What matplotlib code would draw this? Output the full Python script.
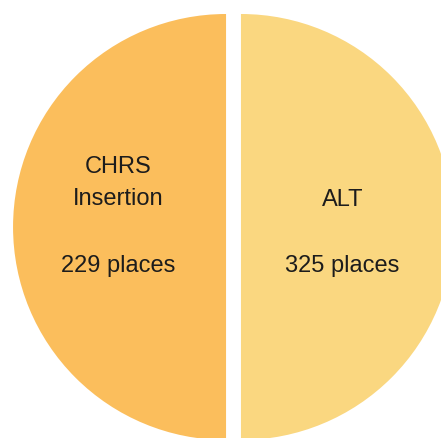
import matplotlib.pyplot as plt

# donnees
noms = ["CHRS\nInsertion", "ALT"]
places = [229, 325]
parts = [50, 50]  # les deux moities sont egales sur le dessin
couleurs = ["#FBBE5C", "#FAD780"]

plt.rcParams['font.family'] = ['Liberation Sans', 'DejaVu Sans']

fig = plt.figure(figsize=(4.41, 4.39), dpi=100)
ax = fig.add_axes([0, 0, 1, 1])

ax.pie(parts, colors=couleurs, startangle=90, counterclock=True,
       explode=[0.035, 0.035], radius=1.0,
       wedgeprops=dict(linewidth=0))

# 213 px par unite, centre du cercle a (233.5, 228) px depuis le haut
ech = 213.0
ax.set_xlim(-233.5 / ech, (441 - 233.5) / ech)
ax.set_ylim(-(439 - 228) / ech, 228 / ech)
ax.set_aspect('auto')
ax.axis('off')

txt = dict(fontsize=17, color='#1c1c1c', ha='center', va='baseline')
# gauche
lignes = noms[0].split("\n")
ax.text(-0.54, 0.258, lignes[0], **txt)
ax.text(-0.54, 0.108, lignes[1], **txt)
ax.text(-0.54, -0.207, f"{places[0]} places", **txt)
# droite
ax.text(0.512, 0.103, noms[1], **txt)
ax.text(0.512, -0.207, f"{places[1]} places", **txt)

fig.savefig("out.png", dpi=100, facecolor='white')
